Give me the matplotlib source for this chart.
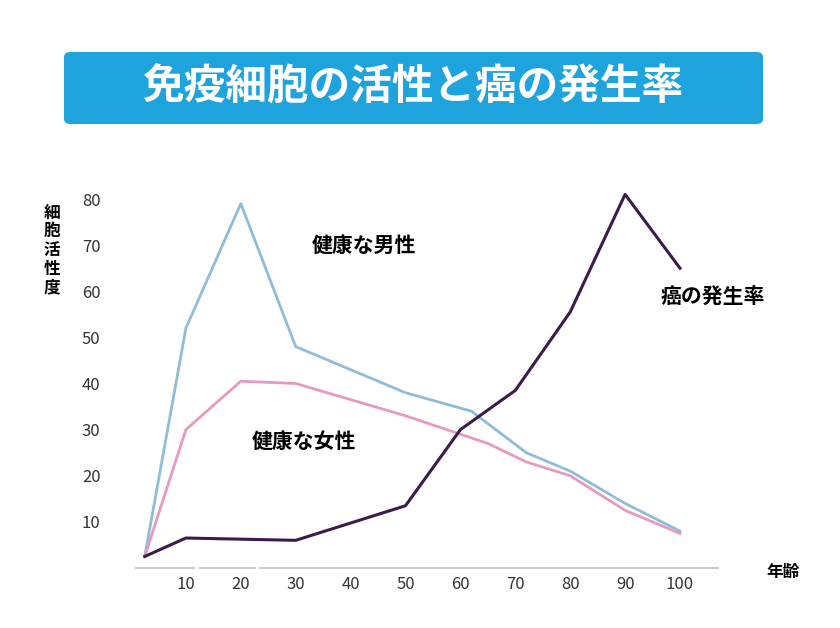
import matplotlib
matplotlib.use("Agg")
import matplotlib.pyplot as plt
from matplotlib.patches import FancyBboxPatch

plt.rcParams["font.family"] = "Noto Sans CJK JP"

ages_m = [2.5, 10, 20, 30, 50, 62, 72, 80, 90, 100]
male = [2.5, 52, 79, 48, 38, 34, 25, 21, 14, 8]
ages_f = [2.5, 10, 20, 30, 50, 65, 72, 80, 90, 100]
female = [2.5, 30, 40.5, 40, 33, 27, 23, 20, 12.5, 7.5]
ages_c = [2.5, 10, 30, 50, 60, 70, 80, 90, 100]
cancer = [2.5, 6.5, 6, 13.5, 30, 38.5, 55.5, 81, 65]
xticks = [10, 20, 30, 40, 50, 60, 70, 80, 90, 100]
yticks = [10, 20, 30, 40, 50, 60, 70, 80]

W, H = 840, 628
fig = plt.figure(figsize=(W/100, H/100), dpi=100)
x0, x1 = 131, 680
y0, y1 = 568, 199
ax = fig.add_axes([x0 / W, 1 - y0 / H, (x1 - x0) / W, (y0 - y1) / H])
ax.set_xlim(0, 100)
ax.set_ylim(0, 80)
for s in ax.spines.values():
    s.set_visible(False)
ax.plot(ages_m, male, color="#8fbcd8", lw=2, clip_on=False)
ax.plot(ages_f, female, color="#e79ac0", lw=2, clip_on=False)
ax.plot(ages_c, cancer, color="#3a1b4a", lw=2.2, clip_on=False)
ax.set_xticks(xticks)
ax.set_yticks(yticks)
ax.tick_params(length=0, labelsize=12, colors="#333333", pad=6)
ax.tick_params(axis="y", pad=22)
for a, b in [(1, 11.5), (12.5, 22.5), (23.5, 107)]:
    ax.plot([a, b], [0, 0], color="#cccccc", lw=1.5, clip_on=False)

ax.text(33, 70, "健康な男性", fontsize=15, fontweight="bold", ha="left", va="center")
ax.text(22, 27.5, "健康な女性", fontsize=15, fontweight="bold", ha="left", va="center")
ax.text(96.5, 59, "癌の発生率", fontsize=15, fontweight="bold", ha="left", va="center")

fig.text(52/W, 1 - 250/H, "細\n胞\n活\n性\n度", fontsize=12, fontweight="bold",
         ha="center", va="center", linespacing=1.05)
fig.text(783/W, 1 - 572/H, "年齢", fontsize=12, fontweight="bold", ha="center", va="center")

box = FancyBboxPatch((64/W, 1 - 124/H), (763-64)/W, (124-52)/H,
                     boxstyle="round,pad=0,rounding_size=0.008",
                     transform=fig.transFigure, facecolor="#1ea3dc", edgecolor="none")
fig.patches.append(box)
fig.text(413/W, 1 - 88/H, "免疫細胞の活性と癌の発生率", fontsize=30, fontweight="bold",
         color="white", ha="center", va="center")

fig.savefig("out.png", dpi=100)
